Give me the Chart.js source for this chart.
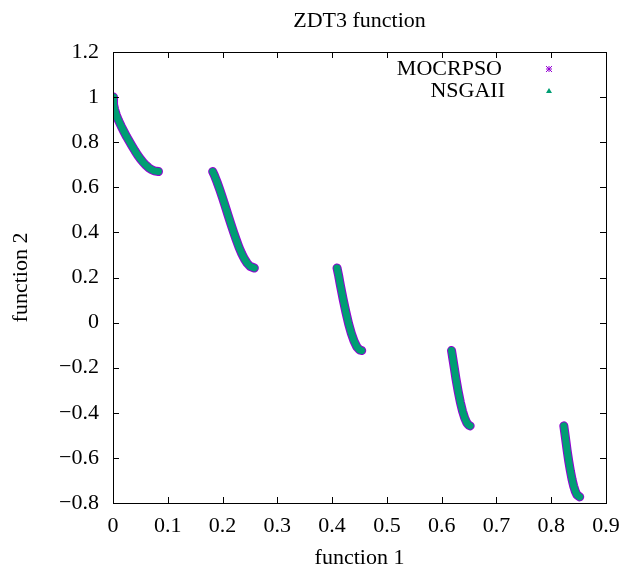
<html>
<head>
    <meta charset="UTF-8">
    <title>ZDT3 function</title>
    <script src="https://cdn.jsdelivr.net/npm/chart.js@4.4.1/dist/chart.umd.min.js"></script>
    <style>
        body { margin: 0; background: #fff; }
    </style>
</head>
<body>
<canvas id="myChart" width="622" height="575"></canvas>

<script>
    // pareto front, one array per piece of the front
    // both algorithms sit on top of each other, so they share the same points
    var f1Seg = [
        [0, 0.001, 0.003, 0.006, 0.01, 0.015, 0.02, 0.025, 0.03, 0.035, 0.04, 0.045, 0.05, 0.055, 0.06, 0.065, 0.07, 0.075, 0.083],
        [0.182, 0.185, 0.19, 0.195, 0.2, 0.205, 0.21, 0.215, 0.22, 0.225, 0.23, 0.235, 0.24, 0.245, 0.25, 0.258],
        [0.409, 0.412, 0.415, 0.42, 0.425, 0.43, 0.435, 0.44, 0.445, 0.45, 0.454],
        [0.618, 0.622, 0.626, 0.63, 0.634, 0.638, 0.642, 0.646, 0.649, 0.652],
        [0.823, 0.826, 0.829, 0.832, 0.835, 0.838, 0.841, 0.844, 0.847, 0.852]
    ];
    var f2Seg = [
        [1, 0.968, 0.945, 0.921, 0.897, 0.871, 0.847, 0.824, 0.803, 0.782, 0.762, 0.743, 0.726, 0.711, 0.698, 0.687, 0.679, 0.673, 0.670],
        [0.670, 0.654, 0.623, 0.589, 0.553, 0.515, 0.477, 0.439, 0.402, 0.367, 0.334, 0.306, 0.282, 0.263, 0.250, 0.242],
        [0.242, 0.207, 0.167, 0.105, 0.048, -0.004, -0.047, -0.082, -0.107, -0.121, -0.124],
        [-0.124, -0.185, -0.248, -0.303, -0.352, -0.392, -0.423, -0.445, -0.454, -0.458],
        [-0.458, -0.511, -0.566, -0.615, -0.658, -0.695, -0.725, -0.748, -0.764, -0.773]
    ];
    var seriesNames = ['MOCRPSO', 'NSGAII'];
    var xTicks = [0, 0.1, 0.2, 0.3, 0.4, 0.5, 0.6, 0.7, 0.8, 0.9];
    var yTicks = [-0.8, -0.6, -0.4, -0.2, 0, 0.2, 0.4, 0.6, 0.8, 1, 1.2];

    var purple = '#9400d3';
    var green = '#009e73';
    var serif = '"Liberation Serif", "Times New Roman", serif';
    var fs = 22;

    function buildPoints() {
        var pts = [];
        for (var s = 0; s < f1Seg.length; s++) {
            for (var i = 0; i < f1Seg[s].length; i++) {
                pts.push({x: f1Seg[s][i], y: f2Seg[s][i]});
            }
            pts.push({x: f1Seg[s][f1Seg[s].length - 1], y: null}); // break the line
        }
        return pts;
    }

    function minus(v) {
        return String(v).replace('-', '\u2212');
    }

    // gnuplot look: box, inward ticks on all sides, title, key inside top right
    var gnuplotBits = {
        id: 'gnuplotBits',
        afterDraw: function (chart) {
            var ctx = chart.ctx;
            var a = chart.chartArea;
            var sx = chart.scales.x, sy = chart.scales.y;
            var tl = 6;
            ctx.save();
            ctx.strokeStyle = '#000';
            ctx.lineWidth = 1;
            ctx.beginPath();
            xTicks.forEach(function (v) {
                var px = Math.round(sx.getPixelForValue(v)) + 0.5;
                ctx.moveTo(px, a.bottom); ctx.lineTo(px, a.bottom - tl);
                ctx.moveTo(px, a.top); ctx.lineTo(px, a.top + tl);
            });
            yTicks.forEach(function (v) {
                var py = Math.round(sy.getPixelForValue(v)) + 0.5;
                ctx.moveTo(a.left, py); ctx.lineTo(a.left + tl, py);
                ctx.moveTo(a.right, py); ctx.lineTo(a.right - tl, py);
            });
            ctx.stroke();
            ctx.strokeRect(Math.round(a.left) + 0.5, Math.round(a.top) + 0.5,
                Math.round(a.right - a.left), Math.round(a.bottom - a.top));

            ctx.fillStyle = '#000';
            ctx.font = fs + 'px ' + serif;
            ctx.textAlign = 'center';
            ctx.textBaseline = 'alphabetic';
            ctx.fillText('ZDT3 function', (a.left + a.right) / 2, 27);

            // key
            ctx.textAlign = 'right';
            ctx.fillText(seriesNames[0], a.right - 104, a.top + 23);
            ctx.fillText(seriesNames[1], a.right - 101, a.top + 45);

            var markX = a.right - 57;
            ctx.strokeStyle = purple;
            ctx.beginPath();
            var cy = a.top + 17, r = 3;
            ctx.moveTo(markX - r, cy); ctx.lineTo(markX + r, cy);
            ctx.moveTo(markX, cy - r); ctx.lineTo(markX, cy + r);
            ctx.moveTo(markX - r, cy - r); ctx.lineTo(markX + r, cy + r);
            ctx.moveTo(markX - r, cy + r); ctx.lineTo(markX + r, cy - r);
            ctx.stroke();

            ctx.fillStyle = green;
            ctx.beginPath();
            cy = a.top + 39;
            ctx.moveTo(markX, cy - 3); ctx.lineTo(markX + 3, cy + 2); ctx.lineTo(markX - 3, cy + 2);
            ctx.closePath();
            ctx.fill();
            ctx.restore();
        }
    };

    var ctx = document.getElementById('myChart');
    var myChart = new Chart(ctx, {
        type: 'scatter',
        data: {
            datasets: [{
                label: seriesNames[0],
                data: buildPoints(),
                order: 2,
                showLine: true,
                borderColor: purple,
                borderWidth: 9,
                borderCapStyle: 'round',
                borderJoinStyle: 'round',
                pointRadius: 0
            }, {
                label: seriesNames[1],
                data: buildPoints(),
                order: 1,
                showLine: true,
                borderColor: green,
                borderWidth: 7,
                borderCapStyle: 'round',
                borderJoinStyle: 'round',
                pointRadius: 0
            }]
        },
        options: {
            responsive: false,
            maintainAspectRatio: false,
            animation: false,
            events: [],
            layout: {padding: {top: 52, right: 16, left: 0, bottom: 0}},
            plugins: {
                legend: {display: false},
                tooltip: {enabled: false}
            },
            scales: {
                x: {
                    type: 'linear',
                    min: 0, max: 0.9,
                    afterFit: function (s) {
                        s.height = 72;
                        s.paddingLeft = 0; s.paddingRight = 0;
                    },
                    afterBuildTicks: function (s) {
                        s.ticks = xTicks.map(function (v) { return {value: v}; });
                    },
                    grid: {display: false, drawTicks: false},
                    border: {display: false},
                    ticks: {
                        color: '#000', padding: 10, autoSkip: false, maxRotation: 0,
                        font: {family: serif, size: fs},
                        callback: function (v) { return minus(v); }
                    },
                    title: {
                        display: true, text: 'function 1', color: '#000',
                        font: {family: serif, size: fs},
                        padding: {top: 0, bottom: 4}
                    }
                },
                y: {
                    type: 'linear',
                    min: -0.8, max: 1.2,
                    afterFit: function (s) {
                        s.width = 113;
                        s.paddingTop = 0; s.paddingBottom = 0;
                    },
                    afterBuildTicks: function (s) {
                        s.ticks = yTicks.map(function (v) { return {value: v}; });
                    },
                    grid: {display: false, drawTicks: false},
                    border: {display: false},
                    ticks: {
                        color: '#000', padding: 14, autoSkip: false,
                        font: {family: serif, size: fs},
                        callback: function (v) { return minus(v); }
                    },
                    title: {
                        display: true, text: 'function 2', color: '#000',
                        font: {family: serif, size: fs},
                        padding: {top: 8, bottom: 0}
                    }
                }
            }
        },
        plugins: [gnuplotBits]
    });
</script>
</body>
</html>
